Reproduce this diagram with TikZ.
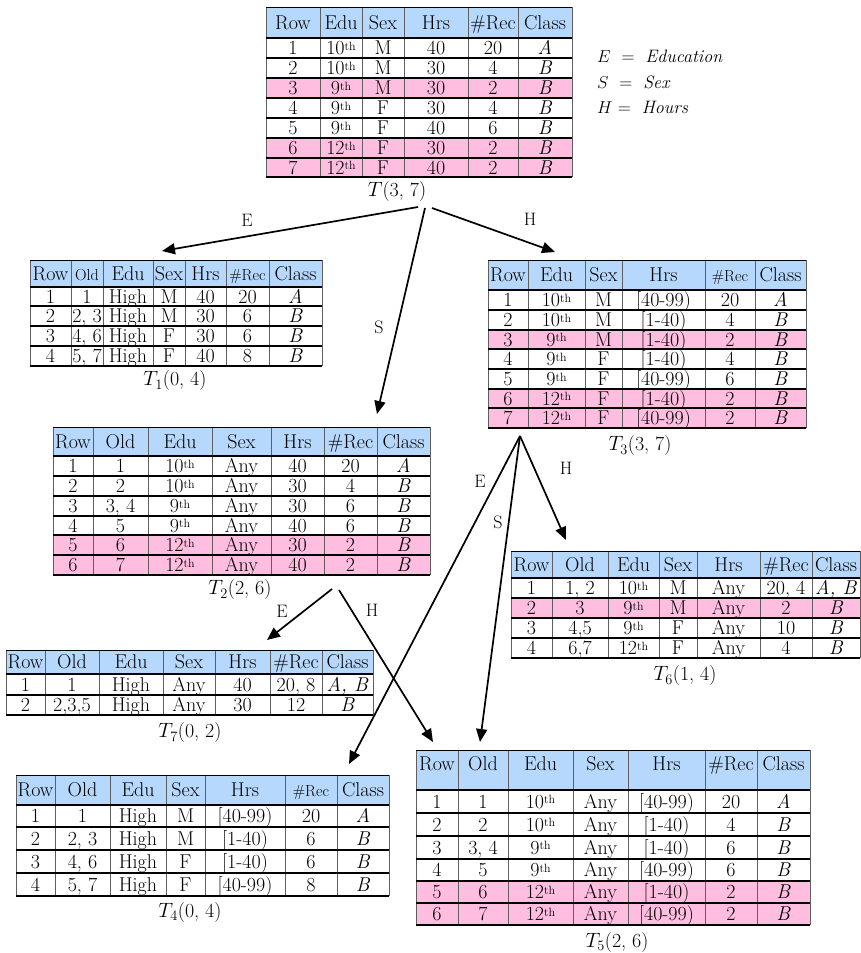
\documentclass[tikz,border=0pt]{standalone}
\usepackage{xcolor}
\usepackage{tikz}
\usetikzlibrary{arrows.meta, calc}
\definecolor{headblue}{RGB}{182,216,252}
\definecolor{rowpink}{RGB}{255,190,224}
\definecolor{rulegray}{RGB}{95,95,95}
\tikzstyle{cell} = [inner sep=0pt, font=\fontsize{20}{22}\selectfont,
text height=13pt, text depth=0pt]
\tikzstyle{tabcaption} = [inner sep=0pt, font=\fontsize{20}{22}\selectfont]
\tikzstyle{legendtext} = [inner sep=0pt, anchor=west, font=\fontsize{18}{20}\selectfont]
\tikzstyle{branch} = [inner sep=0pt, font=\fontsize{18}{20}\selectfont]
\tikzstyle{colrule} = [draw=rulegray, line width=0.8pt]
\tikzstyle{rowrule} = [draw=black, line width=1.2pt]
\tikzstyle{headrule} = [draw=black, line width=2pt]
\tikzstyle{toprule} = [draw=black, line width=0.9pt]
\tikzstyle{arrow} = [-{Triangle[length=13pt, width=11pt]}, line width=1.7pt, draw=black]
\newcommand\smallhead{\fontsize{16}{18}\selectfont}
% grid of a table: name, column edges, row edges
\newcommand\tabsetup[3]{%
  \foreach \e [count=\n] in {#2} {\coordinate (#1-x\n) at (\e,0); \xdef\tabnx{\n}}%
  \expandafter\xdef\csname nx#1\endcsname{\tabnx}%
  \foreach \e [count=\n] in {#3} {\coordinate (#1-y\n) at (0,\e); \xdef\tabny{\n}}%
  \expandafter\xdef\csname ny#1\endcsname{\tabny}%
}
% one row: name, row number (0 = header), fill, cells
\newcommand\tabrow[4]{%
  \pgfmathtruncatemacro\rowa{#2+1}%
  \pgfmathtruncatemacro\rowb{#2+2}%
  \edef\tabcolsn{\csname nx#1\endcsname}%
  \fill[#3] (#1-x1 |- #1-y\rowa) rectangle (#1-x\tabcolsn |- #1-y\rowb);
  \foreach \entry [count=\j] in {#4} {%
    \pgfmathtruncatemacro\colb{\j+1}%
    \node[cell] (#1-\rowa-\j) at ($(#1-x\j |- #1-y\rowa)!0.5!(#1-x\colb |- #1-y\rowb)$) {\entry};
  }%
}
% the lines of a table
\newcommand\tabrules[1]{%
  \edef\tabcolsn{\csname nx#1\endcsname}%
  \edef\tabrowsn{\csname ny#1\endcsname}%
  \foreach \n in {1,...,\tabcolsn} \draw[colrule] (#1-x\n |- #1-y1) -- (#1-x\n |- #1-y\tabrowsn);
  \draw[toprule] (#1-x1 |- #1-y1) -- (#1-x\tabcolsn |- #1-y1);
  \foreach \n in {3,...,\tabrowsn} \draw[rowrule] (#1-x1 |- #1-y\n) -- (#1-x\tabcolsn |- #1-y\n);
  \draw[headrule] (#1-x1 |- #1-y2) -- (#1-x\tabcolsn |- #1-y2);
  \draw[headrule] (#1-x1 |- #1-y\tabrowsn) -- (#1-x\tabcolsn |- #1-y\tabrowsn);
}
\newcommand\thsup[1]{#1\raisebox{0.5ex}{\fontsize{12}{13}\selectfont th}}

\begin{document}
\begin{tikzpicture}[x=1pt, y=-1pt]
    \useasboundingbox (0,0) rectangle (861,953);

    % root table
    \tabsetup{T}{266,320,362,404,468,518,572}{7,38,58,78,98,118,138,158,177}
    \tabrow{T}{0}{headblue}{Row, Edu, Sex, Hrs, \#Rec, Class}
    \tabrow{T}{1}{white}{1, \thsup{10}, M, 40, 20, \textit{A}}
    \tabrow{T}{2}{white}{2, \thsup{10}, M, 30, 4, \textit{B}}
    \tabrow{T}{3}{rowpink}{3, \thsup{9}, M, 30, 2, \textit{B}}
    \tabrow{T}{4}{white}{4, \thsup{9}, F, 30, 4, \textit{B}}
    \tabrow{T}{5}{white}{5, \thsup{9}, F, 40, 6, \textit{B}}
    \tabrow{T}{6}{rowpink}{6, \thsup{12}, F, 30, 2, \textit{B}}
    \tabrow{T}{7}{rowpink}{7, \thsup{12}, F, 40, 2, \textit{B}}
    \tabrules{T}
    \node[tabcaption] (capT) at (397,192) {$T$(3, 7)};

    \node[legendtext] (legE) at (597,56) {$E$\ \ =\ \ \textit{Education}};
    \node[legendtext] (legS) at (597,82) {$S$\ \ =\ \ \textit{Sex}};
    \node[legendtext] (legH) at (597,107) {$H$\ =\ \ \textit{Hours}};

    % generalised on E
    \tabsetup{Tone}{30,71,103,153,185,226,269,322}{260,287,306,326,346,366}
    \tabrow{Tone}{0}{headblue}{Row, {\smallhead Old}, Edu, Sex, Hrs, {\smallhead\#Rec}, Class}
    \tabrow{Tone}{1}{white}{1, 1, High, M, 40, 20, \textit{A}}
    \tabrow{Tone}{2}{white}{2, {2, 3}, High, M, 30, 6, \textit{B}}
    \tabrow{Tone}{3}{white}{3, {4, 6}, High, F, 30, 6, \textit{B}}
    \tabrow{Tone}{4}{white}{4, {5, 7}, High, F, 40, 8, \textit{B}}
    \tabrules{Tone}
    \node[tabcaption] (capTone) at (175,381) {$T_1$(0, 4)};

    % generalised on H
    \tabsetup{Tthree}{488,528,585,622,705,755,806}{260,290,310,330,349,369,389,408,428}
    \tabrow{Tthree}{0}{headblue}{Row, Edu, Sex, Hrs, {\smallhead\#Rec}, Class}
    \tabrow{Tthree}{1}{white}{1, \thsup{10}, M, [40-99), 20, \textit{A}}
    \tabrow{Tthree}{2}{white}{2, \thsup{10}, M, [1-40), 4, \textit{B}}
    \tabrow{Tthree}{3}{rowpink}{3, \thsup{9}, M, [1-40), 2, \textit{B}}
    \tabrow{Tthree}{4}{white}{4, \thsup{9}, F, [1-40), 4, \textit{B}}
    \tabrow{Tthree}{5}{white}{5, \thsup{9}, F, [40-99), 6, \textit{B}}
    \tabrow{Tthree}{6}{rowpink}{6, \thsup{12}, F, [1-40), 2, \textit{B}}
    \tabrow{Tthree}{7}{rowpink}{7, \thsup{12}, F, [40-99), 2, \textit{B}}
    \tabrules{Tthree}
    \node[tabcaption] (capTthree) at (640,446) {$T_3$(3, 7)};

    % generalised on S
    \tabsetup{Ttwo}{53,93,148,212,271,324,377,430}{427,456,476,496,516,535,555,575}
    \tabrow{Ttwo}{0}{headblue}{Row, Old, Edu, Sex, Hrs, \#Rec, Class}
    \tabrow{Ttwo}{1}{white}{1, 1, \thsup{10}, Any, 40, 20, \textit{A}}
    \tabrow{Ttwo}{2}{white}{2, 2, \thsup{10}, Any, 30, 4, \textit{B}}
    \tabrow{Ttwo}{3}{white}{3, {3, 4}, \thsup{9}, Any, 30, 6, \textit{B}}
    \tabrow{Ttwo}{4}{white}{4, 5, \thsup{9}, Any, 40, 6, \textit{B}}
    \tabrow{Ttwo}{5}{rowpink}{5, 6, \thsup{12}, Any, 30, 2, \textit{B}}
    \tabrow{Ttwo}{6}{rowpink}{6, 7, \thsup{12}, Any, 40, 2, \textit{B}}
    \tabrules{Ttwo}
    \node[tabcaption] (capTtwo) at (240,590) {$T_2$(2, 6)};

    % T3 then H
    \tabsetup{Tsix}{511,552,608,659,697,760,812,860}{551,578,598,618,638,658}
    \tabrow{Tsix}{0}{headblue}{Row, Old, Edu, Sex, Hrs, \#Rec, Class}
    \tabrow{Tsix}{1}{white}{1, {1, 2}, \thsup{10}, M, Any, {20, 4}, \textit{A, B}}
    \tabrow{Tsix}{2}{rowpink}{2, 3, \thsup{9}, M, Any, 2, \textit{B}}
    \tabrow{Tsix}{3}{white}{3, {4,5}, \thsup{9}, F, Any, 10, \textit{B}}
    \tabrow{Tsix}{4}{white}{4, {6,7}, \thsup{12}, F, Any, 4, \textit{B}}
    \tabrules{Tsix}
    \node[tabcaption] (capTsix) at (685,676) {$T_6$(1, 4)};

    % T2 then E
    \tabsetup{Tseven}{6,45,99,163,215,270,322,373}{650,674,695,715}
    \tabrow{Tseven}{0}{headblue}{Row, Old, Edu, Sex, Hrs, \#Rec, Class}
    \tabrow{Tseven}{1}{white}{1, 1, High, Any, 40, {20, 8}, \textit{A, B}}
    \tabrow{Tseven}{2}{white}{2, {2,3,5}, High, Any, 30, 12, \textit{B}}
    \tabrules{Tseven}
    \node[tabcaption] (capTseven) at (190,733) {$T_7$(0, 2)};

    % T3 then E
    \tabsetup{Tfour}{16,55,110,166,205,285,337,389}{775,805,827,850,873,896}
    \tabrow{Tfour}{0}{headblue}{Row, Old, Edu, Sex, Hrs, {\smallhead\#Rec}, Class}
    \tabrow{Tfour}{1}{white}{1, 1, High, M, [40-99), 20, \textit{A}}
    \tabrow{Tfour}{2}{white}{2, {2, 3}, High, M, [1-40), 6, \textit{B}}
    \tabrow{Tfour}{3}{white}{3, {4, 6}, High, F, [1-40), 6, \textit{B}}
    \tabrow{Tfour}{4}{white}{4, {5, 7}, High, F, [40-99), 8, \textit{B}}
    \tabrules{Tfour}
    \node[tabcaption] (capTfour) at (190,912) {$T_4$(0, 4)};

    % reached from T2 by H and from T3 by S
    \tabsetup{Tfive}{416,458,508,573,628,705,757,810}{750,790,813,836,859,881,903,925}
    \begin{scope}[every node/.append style={yshift=6pt}]
    \tabrow{Tfive}{0}{headblue}{Row, Old, Edu, Sex, Hrs, \#Rec, Class}
    \end{scope}
    \tabrow{Tfive}{1}{white}{1, 1, \thsup{10}, Any, [40-99), 20, \textit{A}}
    \tabrow{Tfive}{2}{white}{2, 2, \thsup{10}, Any, [1-40), 4, \textit{B}}
    \tabrow{Tfive}{3}{white}{3, {3, 4}, \thsup{9}, Any, [1-40), 6, \textit{B}}
    \tabrow{Tfive}{4}{white}{4, 5, \thsup{9}, Any, [40-99), 6, \textit{B}}
    \tabrow{Tfive}{5}{rowpink}{5, 6, \thsup{12}, Any, [1-40), 2, \textit{B}}
    \tabrow{Tfive}{6}{rowpink}{6, 7, \thsup{12}, Any, [40-99), 2, \textit{B}}
    \tabrules{Tfive}
    \node[tabcaption] (capTfive) at (617,942) {$T_5$(2, 6)};

    % branch points and arrow ends
    \coordinate (splitTe) at (418,207);
    \coordinate (splitTs) at (425,208);
    \coordinate (splitTh) at (432,208);
    \coordinate (splitTthree) at (520,436);
    \coordinate (splitTtwoE) at (332,589);
    \coordinate (splitTtwoH) at (339,590);
    \coordinate (toTone) at (162,251);
    \coordinate (toTtwo) at (377,414);
    \coordinate (toTthree) at (555,252);
    \coordinate (toTfour) at (349,764);
    \coordinate (toTfiveS) at (480,742);
    \coordinate (toTsix) at (566,540);
    \coordinate (toTseven) at (267,640);
    \coordinate (toTfiveH) at (433,742);

    \draw[arrow] (splitTe) -- (toTone);
    \draw[arrow] (splitTs) -- (toTtwo);
    \draw[arrow] (splitTh) -- (toTthree);
    \draw[arrow] (splitTthree) -- (toTfour);
    \draw[arrow] (splitTthree) -- (toTfiveS);
    \draw[arrow] (splitTthree) -- (toTsix);
    \draw[arrow] (splitTtwoE) -- (toTseven);
    \draw[arrow] (splitTtwoH) -- (toTfiveH);

    \node[branch] (lblTe) at (247,220) {E};
    \node[branch] (lblTs) at (379,327) {S};
    \node[branch] (lblTh) at (530,219) {H};
    \node[branch] (lblTthreeE) at (480,481) {E};
    \node[branch] (lblTthreeS) at (498,522) {S};
    \node[branch] (lblTthreeH) at (566,468) {H};
    \node[branch] (lblTtwoE) at (282,611) {E};
    \node[branch] (lblTtwoH) at (372,610) {H};
\end{tikzpicture}
\end{document}
